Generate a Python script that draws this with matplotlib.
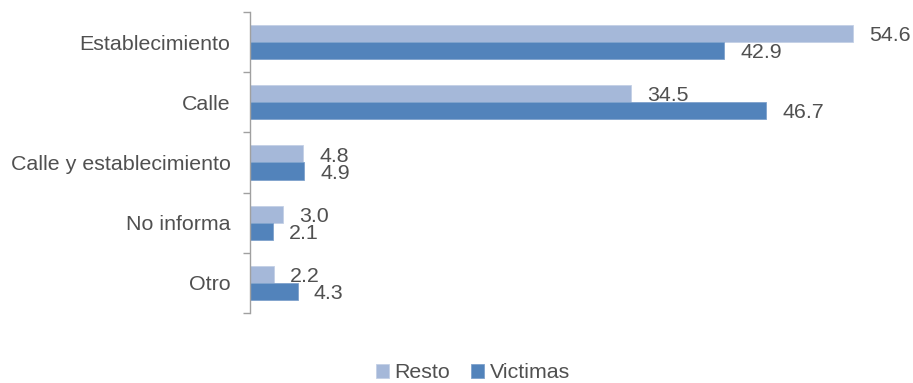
import numpy as np
import matplotlib.pyplot as plt
from matplotlib.ticker import FixedLocator, NullLocator

plt.rcParams['font.family'] = ['Liberation Sans', 'DejaVu Sans']

categorias = ['Establecimiento', 'Calle', 'Calle y establecimiento', 'No informa', 'Otro']
resto = [54.6, 34.5, 4.8, 3.0, 2.2]
victimas = [42.9, 46.7, 4.9, 2.1, 4.3]

color_resto = '#a5b8d9'
color_victimas = '#5283bb'
gris = '#505050'

fig = plt.figure(figsize=(9.13, 3.83), dpi=100)
ax = fig.add_axes([250 / 913, 1 - 313 / 383, 1 - 250 / 913, 301 / 383])

y = np.arange(len(categorias))
h = 0.283
b1 = ax.barh(y - h / 2, resto, height=h, color=color_resto, edgecolor='#c3d0e6', linewidth=0.6, label='Resto')
b2 = ax.barh(y + h / 2, victimas, height=h, color=color_victimas, edgecolor='#7fa2cc', linewidth=0.6, label='Victimas')

# etiquetas de datos
for barras, vals in ((b1, resto), (b2, victimas)):
    for rect, v in zip(barras, vals):
        ax.annotate(f'{v:.1f}', (v, rect.get_y() + rect.get_height() / 2),
                    xytext=(11.5, -1.5), textcoords='offset points',
                    ha='left', va='center', fontsize=15.4, color=gris,
                    annotation_clip=False)

ax.set_xlim(0, 60)
ax.set_ylim(len(categorias) - 0.5, -0.5)
ax.set_yticks(y)
ax.set_yticklabels(categorias, fontsize=15.4, color=gris)
ax.tick_params(axis='y', which='major', length=0, pad=14)
ax.yaxis.set_minor_locator(FixedLocator(np.arange(-0.5, len(categorias), 1)))
ax.tick_params(axis='y', which='minor', length=5, color='#a0a0a0', width=1)
ax.xaxis.set_major_locator(NullLocator())

for s in ('top', 'right', 'bottom'):
    ax.spines[s].set_visible(False)
ax.spines['left'].set_color('#a0a0a0')
ax.spines['left'].set_linewidth(1)

fig.legend(handles=[b1, b2], labels=['Resto', 'Victimas'], loc='center',
           bbox_to_anchor=(473 / 913, 1 - 373 / 383), ncol=2, frameon=False,
           fontsize=15.4, handlelength=0.6, handleheight=0.6, handletextpad=0.25,
           columnspacing=1.0, labelcolor=gris)

fig.savefig('out.png', dpi=100)
